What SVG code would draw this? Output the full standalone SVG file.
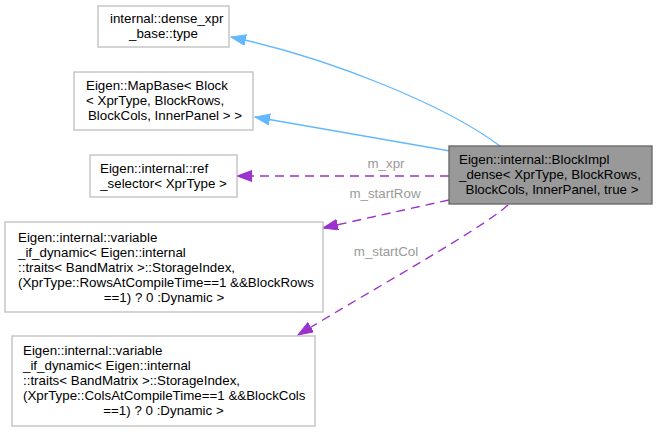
<svg xmlns="http://www.w3.org/2000/svg" width="657" height="432" viewBox="0 0 657 432">
<style>
text{font-family:"Liberation Sans",Arial,sans-serif;font-size:13.33px;fill:#000}
.box{fill:#fff;stroke:#bfbfbf;stroke-width:1.33}
.main{fill:#999;stroke:#666;stroke-width:1.33}
.inh{fill:none;stroke:#63b8ff;stroke-width:1.33}
.use{fill:none;stroke:#9a32cd;stroke-width:1.33;stroke-dasharray:9,6}
.lbl{fill:#9a9a9a;text-anchor:middle}
.m{text-anchor:middle}
</style>
<defs>
<marker id="ab" markerUnits="userSpaceOnUse" markerWidth="16" markerHeight="12" refX="15" refY="5.5" orient="auto"><path d="M0,0 L15,5.5 L0,11 Z" fill="#63b8ff" stroke="#63b8ff"/></marker>
<marker id="ap" markerUnits="userSpaceOnUse" markerWidth="16" markerHeight="12" refX="15" refY="5.5" orient="auto"><path d="M0,0 L15,5.5 L0,11 Z" fill="#9a32cd" stroke="#9a32cd"/></marker>
</defs>
<g id="edges">
<path class="inh" d="M500,146 C445,105 330,58 231,37" marker-end="url(#ab)"/>
<path class="inh" d="M450,151 L255,117" marker-end="url(#ab)"/>
<path class="use" d="M449,176 L237,176" marker-end="url(#ap)"/>
<text class="lbl" x="386" y="168">m_xpr</text>
<path class="use" d="M449,200 L323,228" marker-end="url(#ap)"/>
<text class="lbl" x="385" y="198">m_startRow</text>
<path class="use" d="M508,205 C480,230 380,285 298,335" marker-end="url(#ap)"/>
<text class="lbl" x="386" y="256">m_startCol</text>
</g>
<g id="node_main">
<rect class="main" x="449" y="146" width="203" height="58"/>
<text x="459" y="164">Eigen::internal::BlockImpl</text>
<text x="459" y="179">_dense&lt; XprType, BlockRows,</text>
<text class="m" x="552" y="194">BlockCols, InnerPanel, true &gt;</text>
</g>
<g id="node_dense_xpr_base">
<rect class="box" x="98" y="6" width="131" height="41"/>
<text x="110" y="23">internal::dense_xpr</text>
<text class="m" x="163.5" y="38">_base::type</text>
</g>
<g id="node_mapbase">
<rect class="box" x="74" y="72" width="179" height="58"/>
<text x="86" y="90">Eigen::MapBase&lt; Block</text>
<text x="86" y="105">&lt; XprType, BlockRows,</text>
<text class="m" x="165" y="120">BlockCols, InnerPanel &gt; &gt;</text>
</g>
<g id="node_ref_selector">
<rect class="box" x="90" y="155" width="147" height="42"/>
<text x="100" y="172.5">Eigen::internal::ref</text>
<text class="m" x="163.5" y="187.5">_selector&lt; XprType &gt;</text>
</g>
<g id="node_var_rows">
<rect class="box" x="5" y="222" width="318" height="90"/>
<text x="18" y="241.5">Eigen::internal::variable</text>
<text x="18" y="256.5">_if_dynamic&lt; Eigen::internal</text>
<text x="18" y="271.5">::traits&lt; BandMatrix &gt;::StorageIndex,</text>
<text x="18" y="286.5">(XprType::RowsAtCompileTime==1 &amp;&amp;BlockRows</text>
<text class="m" x="164" y="301.5">==1) ? 0 :Dynamic &gt;</text>
</g>
<g id="node_var_cols">
<rect class="box" x="12" y="336" width="303" height="90"/>
<text x="23" y="355">Eigen::internal::variable</text>
<text x="23" y="370">_if_dynamic&lt; Eigen::internal</text>
<text x="23" y="385">::traits&lt; BandMatrix &gt;::StorageIndex,</text>
<text x="23" y="400">(XprType::ColsAtCompileTime==1 &amp;&amp;BlockCols</text>
<text class="m" x="163.5" y="415">==1) ? 0 :Dynamic &gt;</text>
</g>
</svg>
